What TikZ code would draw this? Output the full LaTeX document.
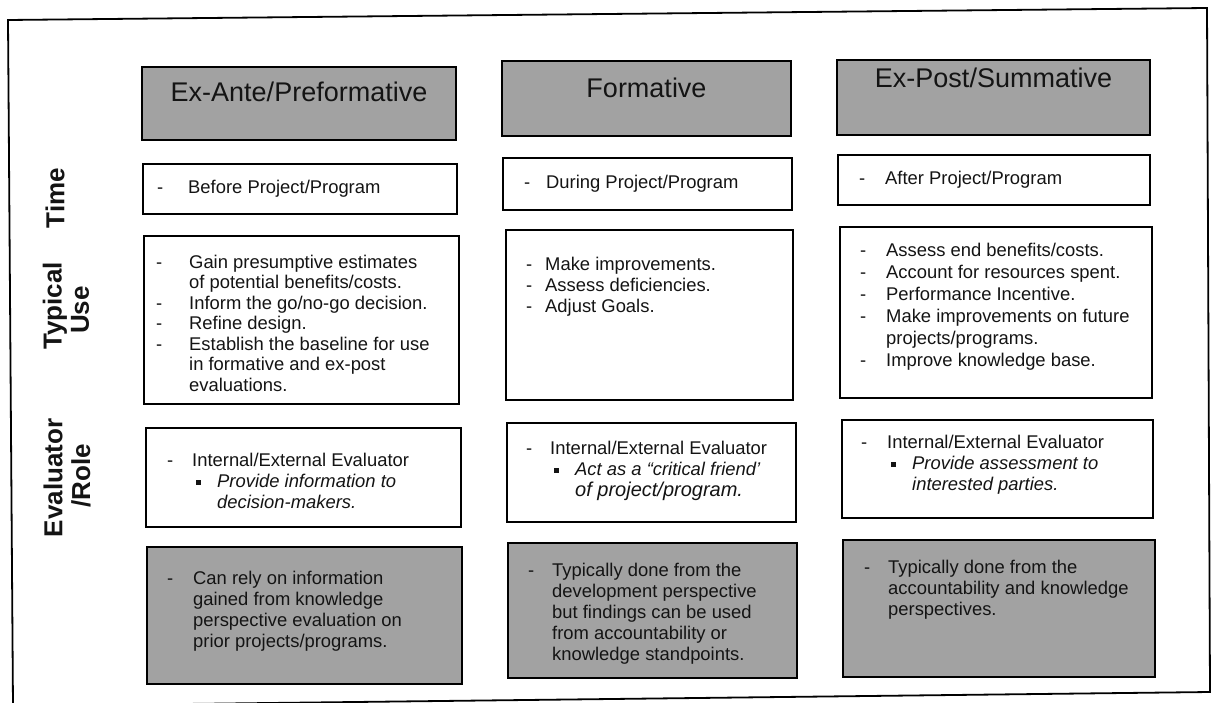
\documentclass[tikz,border=0pt]{standalone}
\usepackage{fontspec}
\setmainfont{Liberation Sans}
\usetikzlibrary{fit}
\definecolor{cellgray}{RGB}{162,162,162}
\definecolor{ink}{RGB}{20,20,20}
% hanging dash placed left of the item text
\newcommand{\dsh}[1]{\llap{\makebox[#1][l]{-}}}
% small square sub-bullet
\newcommand{\sqb}{\rule[2.5pt]{5pt}{5pt}}
\begin{document}
\begin{tikzpicture}[x=1pt,y=-1pt,
  cell/.style={draw=black, line width=1.8pt, fill=white, inner sep=0pt},
  shaded/.style={cell, fill=cellgray},
  headbox/.style={cell, fill=cellgray, line width=2.4pt},
  headtxt/.style={font=\fontsize{27}{30}\selectfont, text=ink, inner sep=0pt, anchor=base},
  body/.style={font=\fontsize{18.4}{21}\selectfont, text=ink, align=left, inner sep=0pt,
               anchor=north west, yshift=14.7pt},
  rowlab/.style={font=\fontsize{26}{30}\selectfont\bfseries, text=ink, rotate=90, inner sep=0pt},
  frame/.style={draw=black, line width=1.8pt}]
\useasboundingbox (0,0) rectangle (1213,703);

% outer frame
\draw[frame] (8,20) -- (1207,8) -- (1210,692) -- (13,706) -- cycle;

% row labels
\node[rowlab] (labTime) at (55,198) {Time};
\node[rowlab] (labTyp) at (55,306) {Typical};
\node[rowlab] (labUse) at (80,310) {Use};
\node[rowlab] (labEval) at (53,478) {Evaluator};
\node[rowlab] (labRole) at (81,476) {/Role};

% column headers
\node[headbox, fit={(142,67) (456,140)}] (h1) {};
\node[headtxt] (h1t) at (299,102) {Ex-Ante/Preformative};
\node[headbox, fit={(502,61) (791,136)}] (h2) {};
\node[headtxt] (h2t) at (646.5,98) {Formative};
\node[headbox, fit={(837,60) (1150,135)}] (h3) {};
\node[headtxt] (h3t) at (993.5,88) {Ex-Post/Summative};

% time row
\node[cell, fit={(143,164) (457,214)}] (t1) {};
\node[body] (t1x) at (188,193) {\strut\dsh{31pt}Before Project/Program};
\node[cell, fit={(503,158) (792,210)}] (t2) {};
\node[body] (t2x) at (546,188) {\strut\dsh{22pt}During Project/Program};
\node[cell, fit={(838,155) (1150,205)}] (t3) {};
\node[body] (t3x) at (885,184) {\strut\dsh{26pt}After Project/Program};

% typical use row
\node[cell, fit={(144,236) (459,404)}] (u1) {};
\node[body, font=\fontsize{18.4}{20.5}\selectfont, yshift=-0.35pt] (u1x) at (189,268)
  {\strut\dsh{33pt}Gain presumptive estimates\\
   of potential benefits/costs.\\
   \dsh{33pt}Inform the go/no-go decision.\\
   \dsh{33pt}Refine design.\\
   \dsh{33pt}Establish the baseline for use\\
   in formative and ex-post\\
   evaluations.};
\node[cell, fit={(506,230) (793,400)}] (u2) {};
\node[body] (u2x) at (545,270)
  {\strut\dsh{19pt}Make improvements.\\
   \dsh{19pt}Assess deficiencies.\\
   \dsh{19pt}Adjust Goals.};
\node[cell, fit={(840,227) (1152,398)}] (u3) {};
\node[body, font=\fontsize{18.4}{22}\selectfont, yshift=0.7pt] (u3x) at (886,256)
  {\strut\dsh{26pt}Assess end benefits/costs.\\
   \dsh{26pt}Account for resources spent.\\
   \dsh{26pt}Performance Incentive.\\
   \dsh{26pt}Make improvements on future\\
   projects/programs.\\
   \dsh{26pt}Improve knowledge base.};

% evaluator / role row
\node[cell, fit={(146,428) (461,527)}] (e1) {};
\node[body] (e1x) at (192,466)
  {\strut\dsh{25pt}Internal/External Evaluator\\
   \hspace*{4pt}\sqb\hspace{16pt}\textit{Provide information to}\\
   \hspace*{25pt}\textit{decision-makers.}};
\node[cell, fit={(507,423) (796,522)}] (e2) {};
\node[body] (e2x) at (550,454)
  {\strut\dsh{24pt}Internal/External Evaluator\\
   \hspace*{4pt}\sqb\hspace{16pt}\textit{Act as a “critical friend’}\\
   \hspace*{25pt}{\fontsize{20}{21}\selectfont\itshape of project/program.}};
\node[cell, fit={(842,420) (1153,518)}] (e3) {};
\node[body] (e3x) at (887,448)
  {\strut\dsh{26pt}Internal/External Evaluator\\
   \hspace*{4pt}\sqb\hspace{16pt}\textit{Provide assessment to}\\
   \hspace*{25pt}\textit{interested parties.}};

% perspective row
\node[shaded, fit={(147,547) (462,684)}] (g1) {};
\node[body] (g1x) at (193,584)
  {\strut\dsh{26pt}Can rely on information\\
   gained from knowledge\\
   perspective evaluation on\\
   prior projects/programs.};
\node[shaded, fit={(508,543) (797,678)}] (g2) {};
\node[body] (g2x) at (552,576)
  {\strut\dsh{24pt}Typically done from the\\
   development perspective\\
   but findings can be used\\
   from accountability or\\
   knowledge standpoints.};
\node[shaded, fit={(843,540) (1155,677)}] (g3) {};
\node[body] (g3x) at (888,573)
  {\strut\dsh{24pt}Typically done from the\\
   accountability and knowledge\\
   perspectives.};
\end{tikzpicture}
\end{document}
